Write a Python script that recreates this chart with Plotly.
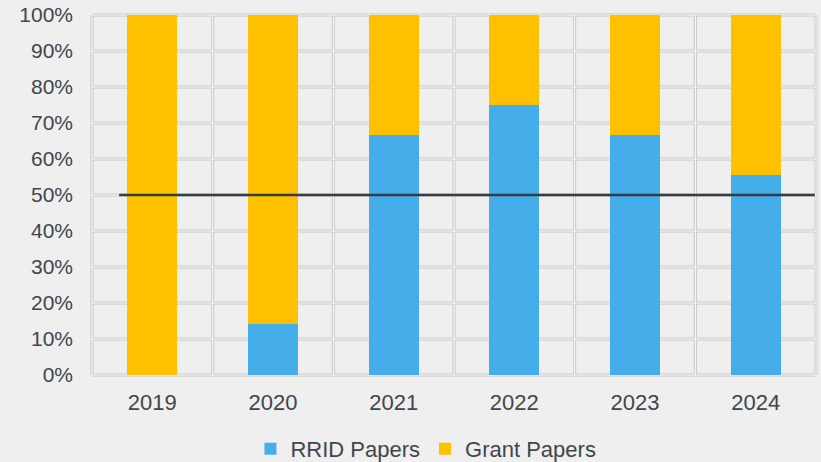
import plotly.graph_objects as go

# Share of papers per year (percent of all papers in that year)
years = ["2019", "2020", "2021", "2022", "2023", "2024"]
rrid_pct = [0, 14.3, 66.7, 75.0, 66.7, 55.6]
grant_pct = [100, 85.7, 33.3, 25.0, 33.3, 44.4]
y_ticks = [0, 10, 20, 30, 40, 50, 60, 70, 80, 90, 100]
y_tick_labels = [f"{v}%" for v in y_ticks]
threshold = 50

BLUE = "#46ADEB"
GOLD = "#FFC000"
BG = "#EFEFEF"
TEXT = "#3F464C"
FONT = "Liberation Sans, Arial, sans-serif"

xs = list(range(len(years)))

fig = go.Figure()
fig.add_trace(go.Bar(x=xs, y=rrid_pct, name="RRID Papers",
                     marker=dict(color=BLUE, line=dict(width=0)), width=0.415))
fig.add_trace(go.Bar(x=xs, y=grant_pct, name="Grant Papers",
                     marker=dict(color=GOLD, line=dict(width=0)), width=0.415))

# Embossed-style grid: grey double rule with a white centre line
shapes = []
n = len(years)
x_edges = [i - 0.5 for i in range(n + 1)]
for yv in y_ticks:
    shapes.append(dict(type="line", xref="x", yref="y", x0=-0.5, x1=n - 0.5,
                       y0=yv, y1=yv, layer="below",
                       line=dict(color="#C6C6C6", width=3)))
for xv in x_edges:
    shapes.append(dict(type="line", xref="x", yref="y", x0=xv, x1=xv,
                       y0=0, y1=100, layer="below",
                       line=dict(color="#C6C6C6", width=3)))
for yv in y_ticks:
    shapes.append(dict(type="line", xref="x", yref="y", x0=-0.5, x1=n - 0.5,
                       y0=yv, y1=yv, layer="below",
                       line=dict(color="#FFFFFF", width=1)))
for xv in x_edges:
    shapes.append(dict(type="line", xref="x", yref="y", x0=xv, x1=xv,
                       y0=0, y1=100, layer="below",
                       line=dict(color="#FFFFFF", width=1)))

# 50% reference line across the bars
shapes.append(dict(type="line", xref="x", yref="y", x0=-0.275, x1=5.49,
                   y0=threshold, y1=threshold, layer="above",
                   line=dict(color="#333D42", width=2.5)))

fig.update_layout(
    width=821, height=462,
    barmode="stack",
    paper_bgcolor=BG, plot_bgcolor=BG,
    margin=dict(l=90, r=3, t=13, b=85),
    font=dict(family=FONT, color=TEXT, size=21),
    shapes=shapes,
    showlegend=True,
    legend=dict(orientation="h", xref="paper", yref="container",
                x=0.4615, xanchor="center", y=0.028, yanchor="middle",
                traceorder="normal", itemwidth=30,
                font=dict(size=22, color=TEXT), bgcolor="rgba(0,0,0,0)",
                itemclick=False),
    bargap=0,
)
fig.update_xaxes(range=[-0.5166, 5.5166], tickvals=xs, ticktext=years,
                 showgrid=False, zeroline=False, showline=False,
                 ticks="", ticklabelstandoff=10,
                 tickfont=dict(size=22, color=TEXT))
fig.update_yaxes(range=[-0.556, 100.556], tickvals=y_ticks, ticktext=y_tick_labels,
                 showgrid=False, zeroline=False, showline=False,
                 ticks="", ticklabelstandoff=16,
                 tickfont=dict(size=21, color=TEXT))

fig.write_html("out.html")
